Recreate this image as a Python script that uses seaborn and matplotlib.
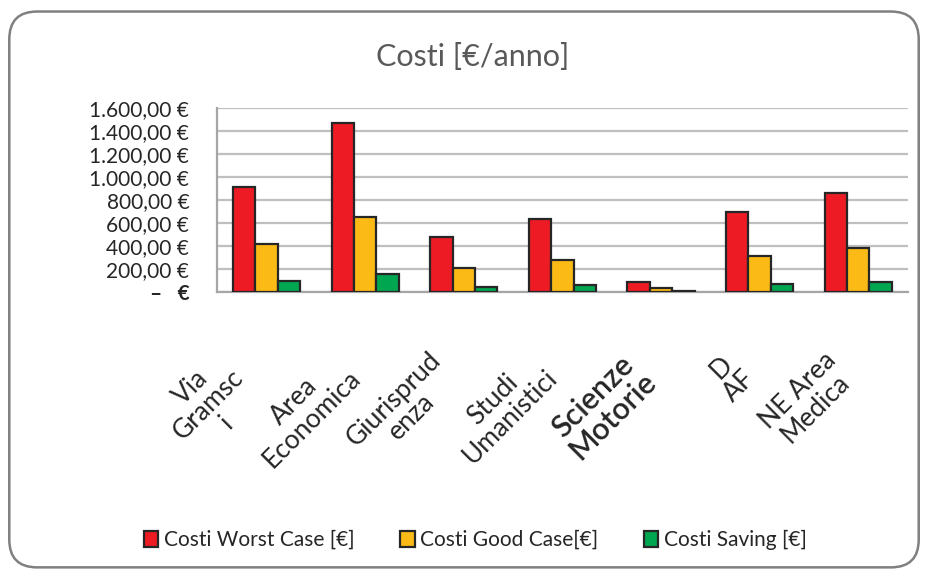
import numpy as np
import pandas as pd
import matplotlib
matplotlib.use("Agg")
import matplotlib.pyplot as plt
from matplotlib.patches import FancyBboxPatch
from matplotlib.ticker import FuncFormatter, MultipleLocator
import seaborn as sns

# dati
sedi = ["Via\nGramsc\ni", "Area\nEconomica", "Giurisprud\nenza", "Studi\nUmanistici",
        "Scienze\nMotorie", "D\nAF", "NE Area\nMedica"]
serie = ["Costi Worst Case [€]", "Costi Good Case[€]", "Costi Saving [€]"]
worst_case = [916, 1470, 477, 635, 87, 696, 859]
good_case = [414, 652, 213, 277, 38, 314, 379]
saving = [93, 160, 44, 58, 6, 73, 85]
colori = ["#ED1C24", "#FBBA16", "#00A650"]

df = pd.DataFrame({
    "sede": sedi * 3,
    "serie": [serie[0]] * 7 + [serie[1]] * 7 + [serie[2]] * 7,
    "costo": worst_case + good_case + saving,
})

sns.set_style("white")
plt.rcParams["font.family"] = ["Lato", "DejaVu Sans"]

fig = plt.figure(figsize=(9.28, 5.76), dpi=100)
ax = fig.add_axes([0.234, 0.493, 0.744, 0.3195])

# bordo arrotondato del grafico
bordo = FancyBboxPatch((0.010, 0.015), 0.980, 0.965, boxstyle="round,pad=0,rounding_size=0.03",
                       transform=fig.transFigure, facecolor="white", edgecolor="#808080",
                       linewidth=1.8, mutation_aspect=928 / 576, zorder=-10)
fig.patches.append(bordo)

sns.barplot(data=df, x="sede", y="costo", hue="serie", palette=colori, saturation=1,
            width=0.68, gap=0, edgecolor="#262626", linewidth=1.6, ax=ax, zorder=3)

ax.set_ylim(0, 1600)
ax.yaxis.set_major_locator(MultipleLocator(200))

def euro(v, pos):
    if v == 0:
        return "–   €"
    s = f"{v:,.2f}".replace(",", "X").replace(".", ",").replace("X", ".")
    return s + " €"

ax.yaxis.set_major_formatter(FuncFormatter(euro))
ax.grid(axis="y", color="#BFBFBF", linewidth=1.6, zorder=0)
ax.set_axisbelow(True)
for s in ["top", "right"]:
    ax.spines[s].set_visible(False)
for s in ["left", "bottom"]:
    ax.spines[s].set_color("#A6A6A6")
    ax.spines[s].set_linewidth(1.6)

ax.set_xlabel("")
ax.set_ylabel("")
ax.tick_params(axis="y", length=0, pad=20, labelsize=15, labelcolor="#262626")
ax.tick_params(axis="x", length=0, pad=40, labelsize=19, labelcolor="#262626")
for lab in ax.get_yticklabels():
    if lab.get_text().startswith("–"):
        lab.set_fontweight("bold")
for lab in ax.get_xticklabels():
    lab.set_rotation(45)
    lab.set_ha("right")
    lab.set_va("top")
    lab.set_multialignment("center")
    lab.set_linespacing(1.0)
    if lab.get_text().startswith("Scienze"):
        lab.set_fontsize(22)
        lab.set_fontweight("semibold")

fig.text(0.509, 1 - 57 / 576, "Costi [€/anno]", ha="center", va="center", fontsize=22, color="#595959")

handles, labels = ax.get_legend_handles_labels()
ax.get_legend().remove()
fig.legend(handles, labels, loc="center", bbox_to_anchor=(0.512, 1 - 540 / 576), ncol=3,
           frameon=False, fontsize=15, handlelength=0.7, handleheight=0.8,
           handletextpad=0.25, columnspacing=2.2, labelcolor="#262626")

fig.savefig("out.png", dpi=100)
